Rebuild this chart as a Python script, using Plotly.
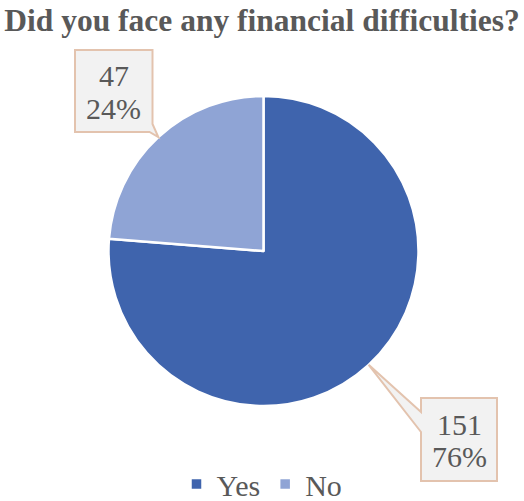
import math
import plotly.graph_objects as go

# Survey answers
labels = ["Yes", "No"]
counts = [151, 47]
colors = ["#3F64AD", "#8FA4D5"]

W, H = 524, 501
SERIF = "Liberation Serif, 'Times New Roman', Times, serif"
TEXT = "#595959"

# pie placement (pixels)
cx, cy, r = 263.5, 251.0, 155.0

# callout boxes (pixels: left, top, right, bottom)
boxes = {
    "Yes": (421, 398, 497, 481),
    "No": (75, 50, 152.5, 132),
}


def px(x):
    return x / W


def py(y):
    return 1 - y / H


total = sum(counts)
fig = go.Figure(
    go.Pie(
        labels=labels,
        values=counts,
        sort=False,
        direction="clockwise",
        rotation=0,
        textinfo="none",
        hoverinfo="label+value+percent",
        marker=dict(colors=colors, line=dict(color="white", width=2.5)),
        domain=dict(x=[px(cx - r), px(cx + r)], y=[py(cy + r), py(cy - r)]),
    )
)

shapes = []
annotations = []
start = 0.0
for lab, val in zip(labels, counts):
    frac = val / total
    mid = (start + frac / 2) * 2 * math.pi
    start += frac
    tx = cx + r * math.sin(mid)
    ty = cy - r * math.cos(mid)
    x0, y0, x1, y1 = boxes[lab]
    if lab == "Yes":
        pts = [(x0, y0), (x1, y0), (x1, y1), (x0, y1), (x0, y0 + 34), (tx, ty), (x0, y0 + 14)]
    else:
        pts = [(x0, y0), (x1, y0), (x1, y1 - 8), (tx, ty), (x1 - 3, y1), (x0, y1)]
    path = "M " + " L ".join(f"{px(a):.5f},{py(b):.5f}" for a, b in pts) + " Z"
    shapes.append(dict(type="path", xref="paper", yref="paper", path=path,
                       fillcolor="#F2F2F2", line=dict(color="#E3C3AE", width=2)))
    pct = round(frac * 100)
    mx, my = (x0 + x1) / 2, (y0 + y1) / 2
    for txt, dy in ((f"{val}", -15.5), (f"{pct}%", 17.0)):
        annotations.append(dict(
            x=px(mx), y=py(my + dy), xref="paper", yref="paper",
            text=txt, showarrow=False, xanchor="center", yanchor="middle",
            font=dict(family=SERIF, size=30, color=TEXT),
        ))

fig.update_layout(
    width=W, height=H,
    margin=dict(l=0, r=0, t=0, b=0, pad=0, autoexpand=False),
    paper_bgcolor="white",
    plot_bgcolor="white",
    title=dict(
        text="<b>Did you face any financial difficulties?</b>",
        x=0.5, xanchor="center", y=py(20), yanchor="middle", yref="paper",
        font=dict(family=SERIF, size=31.5, color=TEXT),
        automargin=False,
    ),
    showlegend=True,
    legend=dict(
        orientation="h", x=0.5, xanchor="center", y=py(484), yanchor="middle",
        font=dict(family=SERIF, size=30, color=TEXT),
        itemwidth=30,
    ),
    shapes=shapes,
    annotations=annotations,
)

fig.write_html("out.html")
